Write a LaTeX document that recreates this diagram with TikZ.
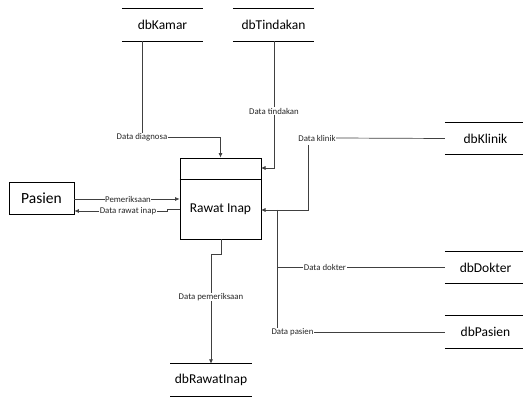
\documentclass[tikz,border=0pt]{standalone}
\usepackage{fontspec}
\setmainfont{Carlito}
\usetikzlibrary{arrows.meta}
\tikzset{
  conn/.style={draw=black!75, line width=0.7pt},
  arr/.style={conn, -{Latex[length=4.5pt,width=4pt]}},
  lbl/.style={font=\fontsize{8.8}{9}\selectfont, inner sep=0.3pt, text=black!85},
  store/.style={minimum width=81pt, minimum height=32pt, inner sep=0pt, font=\fontsize{13.5}{14}\selectfont},
  storeline/.style={draw=black, line width=0.7pt},
  proc/.style={draw=black, line width=0.7pt},
}
\begin{document}
\begin{tikzpicture}[x=1pt,y=-1pt]
\useasboundingbox (0,0) rectangle (523,398);
% stores
\node[store] (kamar) at (162.5,25) {dbKamar};
\node[store] (tind) at (273.5,25) {dbTindakan};
\node[store] (klinik) at (485.5,138.5) {dbKlinik};
\node[store] (dokter) at (485.5,267.5) {dbDokter};
\node[store] (dbpas) at (485.5,332) {dbPasien};
\node[store] (rawat) at (211,380) {dbRawatInap};
\foreach \s in {kamar,tind,klinik,dokter,dbpas,rawat}{
  \draw[storeline] (\s.north west) -- (\s.north east);
  \draw[storeline] (\s.south west) -- (\s.south east);
}
% process
\node[proc, minimum width=81pt, minimum height=81pt, inner sep=0pt] (box) at (220.5,198.5) {};
\draw[proc] (box.north west |- 0,179) -- (box.north east |- 0,179);
\node[font=\fontsize{13.5}{14}\selectfont] (boxt) at (220.5,209.5) {Rawat Inap};
% external entity
\node[proc, minimum width=65pt, minimum height=32pt, inner sep=0pt, font=\fontsize{15.5}{16}\selectfont] (pasien) at (41.5,198) {Pasien};
% labels
\node[lbl] (ldiag) at (142,137) {Data diagnosa};
\node[lbl] (ltind) at (274,111) {Data tindakan};
\node[lbl] (lklin) at (317,138) {Data klinik};
\node[lbl] (ldok) at (325,267.5) {Data dokter};
\node[lbl] (lpas) at (292.5,332) {Data pasien};
\node[lbl] (lpem) at (128,199) {Pemeriksaan};
\node[lbl] (lrwi) at (128,211) {Data rawat inap};
\node[lbl] (lpmr) at (211,297) {Data pemeriksaan};
% coordinates
\coordinate (t1) at (261,168);
\coordinate (k1) at (308,145);
\coordinate (k2) at (261,210);
\coordinate (v1) at (277,210);
\coordinate (r1) at (167,209);
\coordinate (r2) at (167,211);
\coordinate (p1) at (221,254);
\coordinate (p2) at (211,254);
% connectors
\draw[conn] (kamar.south -| ldiag) -- (ldiag.north);
\draw[arr] (ldiag.east) -| (box.north);
\draw[conn] (tind.south -| ltind) -- (ltind.north);
\draw[arr] (ltind.south) |- (t1);
\draw[conn] (klinik.west) -- (lklin.east);
\draw[arr] (k1) |- (k2);
\draw[conn] (v1) -- (lpas.north -| v1);
\draw[conn] (dokter.west) -- (ldok.east);
\draw[conn] (ldok.west) -- (ldok.west -| v1);
\draw[conn] (dbpas.west) -- (lpas.east);
\draw[conn] (pasien.east |- lpem) -- (lpem.west);
\draw[arr] (lpem.east) -- (box.west |- lpem);
\draw[conn] (box.west |- r1) -- (r1) -- (r2) -- (lrwi.east);
\draw[arr] (lrwi.west) -- (pasien.east |- lrwi);
\draw[conn] (box.south -| p1) -- (p1) -- (p2) -- (lpmr.north);
\draw[arr] (lpmr.south) -- (rawat.north);
\end{tikzpicture}
\end{document}
